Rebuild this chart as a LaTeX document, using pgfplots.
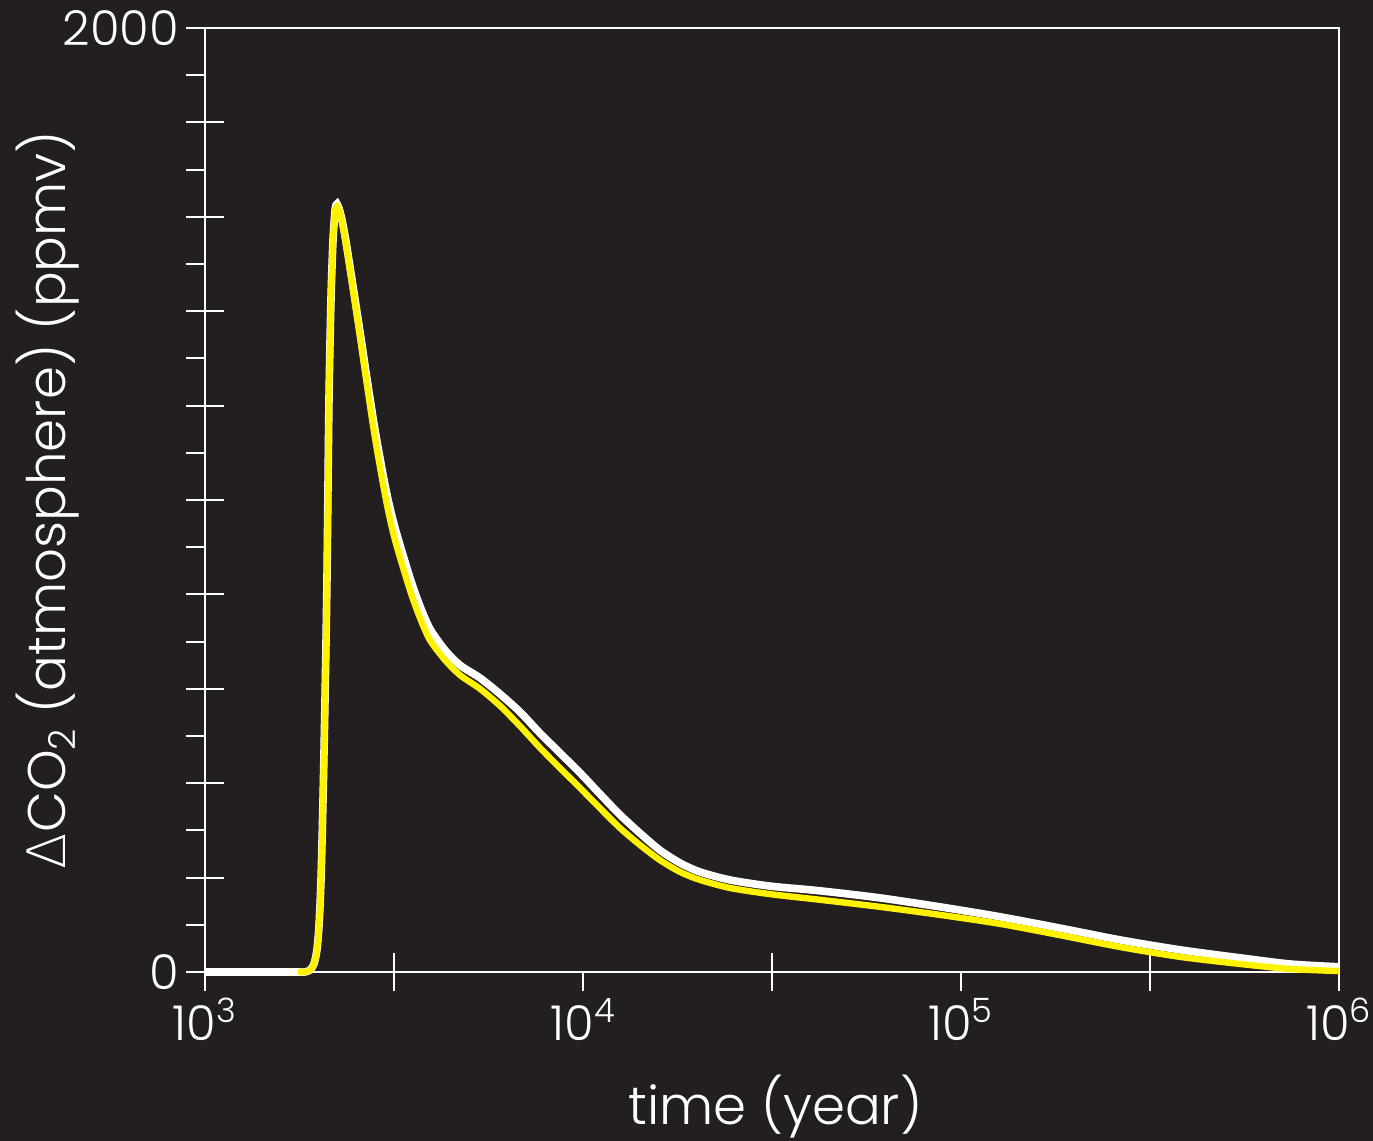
\documentclass[border=0pt]{standalone}
\usepackage{pgfplots}
\pgfplotsset{compat=1.18}
\usepackage{fontspec}
\setmainfont{Poppins Light}
\newfontfamily\deltafont{DejaVu Sans ExtraLight}
\definecolor{bg}{HTML}{231F20}
\definecolor{yel}{HTML}{FFF200}
\begin{document}
\begin{tikzpicture}
\fill[bg] (-102.5pt,-84.5pt) rectangle (584pt,486pt);
\path[use as bounding box] (-102.5pt,-84.5pt) rectangle (584pt,486pt);
\begin{axis}[
  at={(0,0)}, anchor=south west, scale only axis,
  width=567pt, height=472pt,
  xmode=log, xmin=1000, xmax=1000000, ymin=0, ymax=2000,
  clip=false,
  axis line style={white, line width=1pt},
  tick pos=left,
  tick align=outside,
  major tick length=9.5pt,
  minor tick length=9.5pt,
  major tick style={white, line width=1pt},
  minor tick style={white, line width=1pt},
  xtick={1000,10000,100000,1000000},
  xticklabels={10\textsuperscript{3},10\textsuperscript{4},10\textsuperscript{5},10\textsuperscript{6}},
  xminorticks=false,
  ytick={0,2000},
  yticklabels={0,2000},
  minor ytick={100,300,500,700,900,1100,1300,1500,1700,1900},
  extra x ticks={3162.28,31622.8,316228},
  extra x tick labels={},
  extra x tick style={tick align=center, major tick length=19pt},
  extra y ticks={200,400,600,800,1000,1200,1400,1600,1800},
  extra y tick labels={},
  extra y tick style={tick align=center, major tick length=19pt},
  ticklabel style={white, font=\fontsize{24}{29}\selectfont},
  xlabel={time (year)},
  ylabel={{\deltafont Δ}CO\textsubscript{2} (atmosphere) (ppmv)},
  label style={white, font=\fontsize{26.5}{32}\selectfont},
  xlabel style={at={(axis description cs:0.503,-0.143)}, anchor=center},
  ylabel style={at={(axis description cs:-0.139,0.5)}, anchor=center},
]
\addplot[white, line width=3.8pt, smooth, tension=0.45] coordinates {
(1000,0) (1500,0) (1762,0) (1839,0) (1896,4.2) (1942,17) (1978,46.6) (2003,99.6)
(2027,195) (2052,364) (2077,576) (2102,830) (2128,1212) (2154,1424) (2181,1551)
(2208,1613) (2222,1625) (2235,1627) (2248,1623) (2262,1618) (2304,1593) (2361,1547)
(2463,1453) (2571,1356) (2666,1271) (2817,1148) (3012,1021) (3182,941) (3486,835)
(3705,775) (3938,727) (4314,682) (4728,650) (5340,623) (6032,589) (6813,551)
(7695,506) (8693,464) (9819,422) (11091,377) (12529,333) (14152,294) (15986,258)
(18057,231) (20395,212) (24484,195) (31239,182) (42363,172) (61063,157) (88008,138)
(126830,117) (182780,93) (263400,68) (379700,47) (547200,30) (742000,17) (1000000,11)
};
\addplot[yel, line width=3.2pt, smooth, tension=0.45] coordinates {
(1762,0) (1839,0) (1896,4.2) (1942,17) (1978,46.6) (2003,99.6) (2027,195) (2052,364)
(2077,576) (2102,830) (2128,1212) (2154,1424) (2181,1551) (2208,1610) (2222,1620)
(2235,1622) (2248,1620) (2262,1616) (2304,1589) (2361,1540) (2463,1445) (2571,1345)
(2666,1258) (2817,1131) (3012,1000) (3182,915) (3486,809) (3705,750) (3938,703)
(4314,661) (4728,629) (5340,600) (6032,564) (6813,521) (7695,475) (8693,432)
(9819,390) (11091,347) (12529,305) (14152,269) (15986,237) (18057,212) (20395,195)
(24484,178) (31239,165) (42363,153) (61063,138) (88008,121) (126830,102) (182780,78)
(263400,53) (379700,32) (547200,17) (742000,6.4) (1000000,2)
};
\end{axis}
\end{tikzpicture}
\end{document}
